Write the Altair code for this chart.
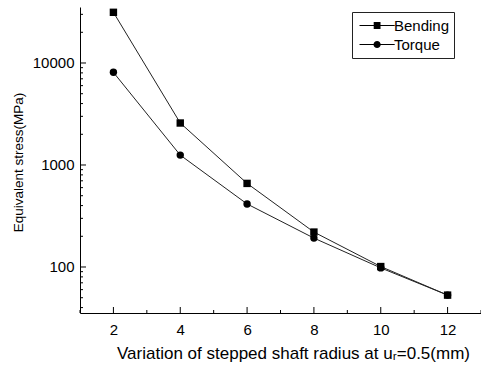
import altair as alt
import pandas as pd

radius = [2, 4, 6, 8, 10, 12]
bending = [31400, 2580, 660, 220, 101, 53]
torque = [8100, 1250, 415, 192, 98, 53]
series_names = ["Bending", "Torque"]

x_major = [2, 4, 6, 8, 10, 12]
x_minor = [1, 3, 5, 7, 9, 11, 13]
y_major = [100, 1000, 10000]
y_minor = [40, 50, 60, 70, 80, 90,
           200, 300, 400, 500, 600, 700, 800, 900,
           2000, 3000, 4000, 5000, 6000, 7000, 8000, 9000,
           20000, 30000]

W, H = 401, 306
FONT = "Liberation Sans"

df = pd.DataFrame({
    "radius": radius * 2,
    "stress": bending + torque,
    "series": ["Bending"] * len(radius) + ["Torque"] * len(radius),
})

xscale = alt.Scale(domain=[1, 13], nice=False, zero=False)
yscale = alt.Scale(type="log", domain=[35.4, 35400], nice=False)

xaxis = alt.Axis(values=x_major, tickSize=0, labelPadding=9,
                 labelFontSize=15, labelFont=FONT, labelColor="black",
                 domainColor="black", domainWidth=1, grid=False,
                 title="Variation of stepped shaft radius at u\u1d63=0.5(mm)",
                 titleFont=FONT, titleFontSize=17, titleFontWeight="normal",
                 titleColor="black", titleX=213, titleY=40,
                 titleBaseline="middle", titleAlign="center")
yaxis = alt.Axis(values=y_major, tickSize=0, labelPadding=6,
                 labelFontSize=15, labelFont=FONT, labelColor="black",
                 domainColor="black", domainWidth=1, grid=False,
                 format="d",
                 title="Equivalent stress(MPa)",
                 titleFont=FONT, titleFontSize=13.5, titleFontWeight="normal",
                 titleColor="#000000", titleX=-62, titleY=155,
                 titleBaseline="middle", titleAlign="center")

base = alt.Chart(df)

lines = base.mark_line(color="#222222", strokeWidth=1).encode(
    x=alt.X("radius:Q", scale=xscale, axis=xaxis),
    y=alt.Y("stress:Q", scale=yscale, axis=yaxis),
    detail="series:N",
)

points = base.mark_point(filled=True, color="black", opacity=1, size=55).encode(
    x=alt.X("radius:Q", scale=xscale, axis=xaxis),
    y=alt.Y("stress:Q", scale=yscale, axis=yaxis),
    shape=alt.Shape("series:N",
                    scale=alt.Scale(domain=series_names, range=["square", "circle"]),
                    legend=None),
)

path_b = "M-1,-0.1H7.8V0.1H-1ZM2.55,-0.85H4.25V0.85H2.55Z"
path_t = "M-1,-0.1H7.8V0.1H-1ZM2.5,0A0.9,0.9 0 1,1 4.3,0A0.9,0.9 0 1,1 2.5,0Z"

legend_layer = base.mark_point(filled=True, color="black", opacity=0).encode(
    x=alt.X("radius:Q", scale=xscale, axis=xaxis),
    y=alt.Y("stress:Q", scale=yscale, axis=yaxis),
    shape=alt.Shape("series:N",
                    scale=alt.Scale(domain=series_names, range=[path_b, path_t]),
                    legend=alt.Legend(title=None, orient="none", legendX=272, legendY=5,
                                      symbolSize=64, symbolOpacity=1,
                                      symbolFillColor="black", symbolStrokeColor="black",
                                      symbolStrokeWidth=0, labelOffset=23,
                                      labelFont=FONT, labelFontSize=15, labelColor="black",
                                      strokeColor="#222222", padding=4, rowPadding=0,
                                      clipHeight=19)),
)

xmaj = alt.Chart(pd.DataFrame({"v": x_major})).mark_rule(color="black", strokeWidth=1).encode(
    x=alt.X("v:Q", scale=xscale, axis=xaxis), y=alt.value(H), y2=alt.value(H - 6))
xmin = alt.Chart(pd.DataFrame({"v": x_minor})).mark_rule(color="black", strokeWidth=1).encode(
    x=alt.X("v:Q", scale=xscale, axis=xaxis), y=alt.value(H), y2=alt.value(H - 3))
ymaj = alt.Chart(pd.DataFrame({"v": y_major})).mark_rule(color="black", strokeWidth=1).encode(
    y=alt.Y("v:Q", scale=yscale, axis=yaxis), x=alt.value(0), x2=alt.value(6))
ymin = alt.Chart(pd.DataFrame({"v": y_minor})).mark_rule(color="black", strokeWidth=1).encode(
    y=alt.Y("v:Q", scale=yscale, axis=yaxis), x=alt.value(0), x2=alt.value(3))

chart = alt.layer(lines, xmaj, xmin, ymaj, ymin, points, legend_layer).resolve_scale(
    shape="independent"
).properties(
    width=W, height=H,
    autosize=alt.AutoSizeParams(type="none"),
    padding={"left": 80, "top": 7, "right": 0, "bottom": 52},
    background="white",
).configure_view(stroke=None)

chart.save("out.html", embed_options={"renderer": "svg", "actions": False})
